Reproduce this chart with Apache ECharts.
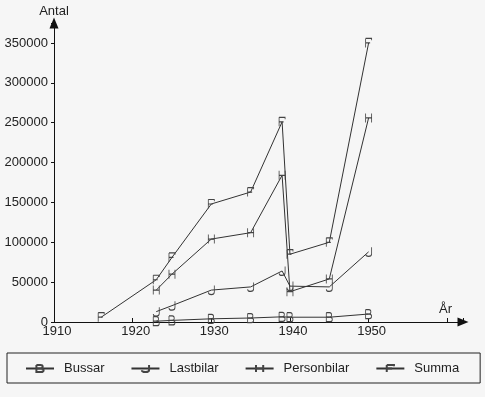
<!DOCTYPE html>
<html lang="sv">
<head>
    <meta charset="UTF-8">
    <title>Antal fordon</title>
    <script src="https://cdn.jsdelivr.net/npm/echarts@6/dist/echarts.min.js"></script>
    <style>
        html, body { margin: 0; padding: 0; background: #f6f6f6; }
    </style>
</head>
<body>
    <div id="chart" style="width: 485px; height: 397px;"></div>

    <script>
        var chart = echarts.init(document.getElementById('chart'));

        // år för varje mätpunkt
        var years = [1916, 1923, 1925, 1930, 1935, 1939, 1940, 1945, 1950];
        var seriesNames = ['Bussar', 'Lastbilar', 'Personbilar', 'Summa'];
        var bussar      = [null, 1000, 2000, 4000, 5000, 6500, 6000, 6000, 10000];
        var lastbilar   = [null, 13000, 20500, 40000, 44000, 64000, 45000, 44000, 88000];
        var personbilar = [null, 40000, 60000, 104000, 112000, 184000, 38000, 54000, 256000];
        var summa       = [6000, 53000, 81000, 148000, 163000, 251000, 85000, 100000, 350000];
        var xTicks = [1910, 1920, 1930, 1940, 1950];
        var yTicks = [0, 50000, 100000, 150000, 200000, 250000, 300000, 350000];

        // bokstavsmarkörer (B, J, H, F)
        var letters = {
            Bussar: 'path://M0,0 L0,10 L5,10 Q8,10 8,7.5 Q8,5 5,5 L0,5 M0,5 L4.5,5 Q7,5 7,2.5 Q7,0 4.5,0 L0,0',
            Lastbilar: 'path://M7,0 L7,7 Q7,10 4,10 Q1,10 1,7.5',
            Personbilar: 'path://M0,0 L0,10 M8,0 L8,10 M0,5 L8,5',
            Summa: 'path://M0,0 L0,10 M0,0 L8,0 L8,2 M0,5 L6,5'
        };

        function pairs(vals) {
            var out = [];
            for (var i = 0; i < years.length; i++) {
                if (vals[i] != null) out.push([years[i], vals[i]]);
            }
            return out;
        }

        var allVals = [bussar, lastbilar, personbilar, summa];
        var series = [];
        for (var s = 0; s < seriesNames.length; s++) {
            series.push({
                name: seriesNames[s],
                type: 'line',
                data: pairs(allVals[s]),
                symbol: letters[seriesNames[s]],
                symbolSize: [6, 9],
                showAllSymbol: true,
                itemStyle: { color: 'rgba(0,0,0,0)', borderColor: '#444', borderWidth: 1 },
                lineStyle: { color: '#333', width: 1 },
                emphasis: { disabled: true }
            });
        }

        var option = {
            animation: false,
            backgroundColor: '#f6f6f6',
            textStyle: { fontFamily: 'Liberation Sans, Arial, sans-serif' },
            grid: { left: 54, right: 22, top: 23, bottom: 75 },
            xAxis: {
                type: 'value',
                min: 1910,
                max: 1962,
                interval: 10,
                name: 'År',
                nameLocation: 'end',
                nameGap: -11,
                nameTextStyle: { fontSize: 13, color: '#222', align: 'right', verticalAlign: 'bottom', padding: [0, 0, 6, 0] },
                axisLine: { lineStyle: { color: '#111', width: 1 }, symbol: ['none', 'triangle'], symbolSize: [9, 11] },
                axisTick: { inside: true, length: 4, lineStyle: { color: '#111' } },
                axisLabel: {
                    fontSize: 13, color: '#222', margin: 3, padding: [0, 0, 0, 6],
                    formatter: function (v) { return xTicks.indexOf(v) >= 0 ? String(v) : ''; }
                },
                splitLine: { show: false }
            },
            yAxis: {
                type: 'value',
                min: 0,
                max: 375000,
                interval: 50000,
                name: 'Antal',
                nameLocation: 'end',
                nameGap: 5,
                nameTextStyle: { fontSize: 13, color: '#222' },
                axisLine: { show: true, lineStyle: { color: '#111', width: 1 }, symbol: ['none', 'triangle'], symbolSize: [9, 11] },
                axisTick: { show: true, length: 3, lineStyle: { color: '#111' } },
                axisLabel: {
                    fontSize: 13, color: '#222', margin: 6,
                    formatter: function (v) { return yTicks.indexOf(v) >= 0 ? String(v) : ''; }
                },
                splitLine: { show: false }
            },
            legend: {
                data: seriesNames,
                left: 7,
                top: 353,
                orient: 'horizontal',
                padding: [9, 21, 8, 18],
                itemGap: 26,
                itemWidth: 28,
                itemHeight: 9,
                borderColor: '#222',
                borderWidth: 1,
                textStyle: { fontSize: 13, color: '#222', padding: [0, 0, 0, 5] }
            },
            series: series
        };

        chart.setOption(option);
    </script>
</body>
</html>
